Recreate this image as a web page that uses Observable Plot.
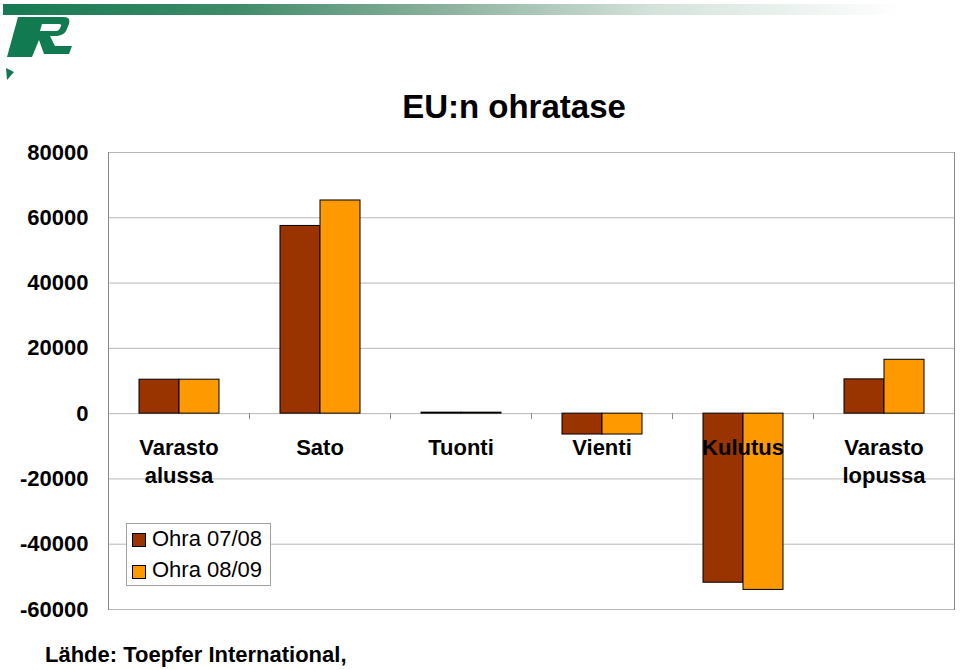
<!DOCTYPE html>
<html>
<head>
<meta charset="utf-8">
<script src="https://cdn.jsdelivr.net/npm/d3@7"></script>
<script src="https://cdn.jsdelivr.net/npm/@observablehq/plot@0.6"></script>
<style>
  html, body { margin: 0; padding: 0; background: #fff; }
  body { width: 960px; height: 670px; position: relative; overflow: hidden;
         font-family: "Liberation Sans", Arial, Helvetica, sans-serif; }
  #chart { position: absolute; left: 0; top: 0; }
  #bar { position: absolute; left: 3px; top: 4px; width: 900px; height: 11px;
         background: linear-gradient(to right, #157a52 0%, #3d8a68 25%, #8fb3a0 50%, #d3e2da 72%, #ffffff 100%); }
  #logo { position: absolute; left: 0; top: 0; }
  #title { position: absolute; left: 514px; top: 90px; transform: translateX(-50%);
           font-size: 33px; line-height: 33px; font-weight: bold; white-space: nowrap; color: #000; }
  #caption { position: absolute; left: 45px; top: 644px; font-size: 22px; line-height: 22px;
             font-weight: bold; white-space: nowrap; color: #000; }
  #legend { position: absolute; left: 126px; top: 523px; width: 145px; height: 63px;
            box-sizing: border-box; border: 1px solid #a0a0a0; background: #fff; }
  .sw { position: absolute; left: 5px; width: 14px; height: 14px; box-sizing: border-box; border: 1px solid #000; }
  .lt { position: absolute; left: 25px; font-size: 22px; line-height: 22px; white-space: nowrap; color: #000; }
</style>
</head>
<body>
<div id="chart"></div>
<div id="bar"></div>
<svg id="logo" width="90" height="90">
  <path d="M18,17 L64,17 Q71,17 69,24 L66,31 Q64,35 57,36 L50,36 L55,46 L72,46 L69,54 L44,54 L39,40 L32,57 L7,57 Z M42,24 L40,31 L56,31 Q59,31 60,28 L61,26 Q62,24 59,24 Z" fill="#127a50" fill-rule="evenodd"/>
  <path d="M6,68 L14,72 L7,80 Z" fill="#127a50"/>
</svg>
<div id="title">EU:n ohratase</div>
<div id="legend"></div>
<div id="caption">Lähde: Toepfer International,</div>
<script>
const categories = ["Varasto\nalussa", "Sato", "Tuonti", "Vienti", "Kulutus", "Varasto\nlopussa"];
const series = ["Ohra 07/08", "Ohra 08/09"];
const values0708 = [10400, 57500, 300, -6400, -51800, 10500];
const values0809 = [10400, 65300, 300, -6400, -54000, 16500];
const yTicks = [-60000, -40000, -20000, 0, 20000, 40000, 60000, 80000];
const colors = ["#993300", "#FF9900"];

const data = categories.flatMap((c, i) => [
  {cat: c, series: series[0], value: values0708[i]},
  {cat: c, series: series[1], value: values0809[i]}
]);

const chart = Plot.plot({
  width: 960,
  height: 670,
  marginLeft: 106,
  marginRight: 5,
  marginTop: 152,
  marginBottom: 61,
  style: {fontFamily: '"Liberation Sans", Arial, sans-serif', background: "transparent"},
  fx: {domain: categories, padding: 0, axis: null, label: null},
  x: {domain: series, paddingInner: 0, paddingOuter: 0.727, axis: null, label: null},
  y: {domain: [-60000, 80000], label: null},
  color: {domain: series, range: colors},
  marks: [
    Plot.ruleY(yTicks, {stroke: "#b8b8b8", strokeWidth: 1}),
    Plot.frame({anchor: "left", facetAnchor: "left", stroke: "#8a8a8a"}),
    Plot.frame({anchor: "right", facetAnchor: "right", stroke: "#8a8a8a"}),
    Plot.axisY({ticks: yTicks, tickSize: 0, tickPadding: 20, fontSize: 22, fontWeight: "bold",
                tickFormat: d => String(d), label: null}),
    Plot.barY(data, {fx: "cat", x: "series", y: "value", fill: "series", stroke: "#000", strokeWidth: 1}),
    Plot.text(categories, {fx: d => d, y: 0, text: d => d, lineAnchor: "top", dy: 22,
                           lineHeight: 1.27, fontSize: 22, fontWeight: "bold", fill: "#000"})
  ]
});

// small tick marks on the zero line at the category boundaries
const fx = chart.scale("fx");
const y0 = chart.scale("y").apply(0);
const bounds = categories.map(c => fx.apply(c)).concat([fx.apply(categories[categories.length - 1]) + fx.bandwidth]);
d3.select(chart).append("g")
  .selectAll("line").data(bounds).join("line")
  .attr("x1", d => d + 0.5).attr("x2", d => d + 0.5)
  .attr("y1", y0).attr("y2", y0 + 6)
  .attr("stroke", "#8a8a8a");

document.getElementById("chart").appendChild(chart);

// legend
const legend = document.getElementById("legend");
series.forEach((s, i) => {
  const sw = document.createElement("div");
  sw.className = "sw";
  sw.style.top = (9 + i * 31.5) + "px";
  sw.style.background = colors[i];
  legend.appendChild(sw);
  const t = document.createElement("div");
  t.className = "lt";
  t.style.top = (4 + i * 31) + "px";
  t.textContent = s;
  legend.appendChild(t);
});
</script>
</body>
</html>
